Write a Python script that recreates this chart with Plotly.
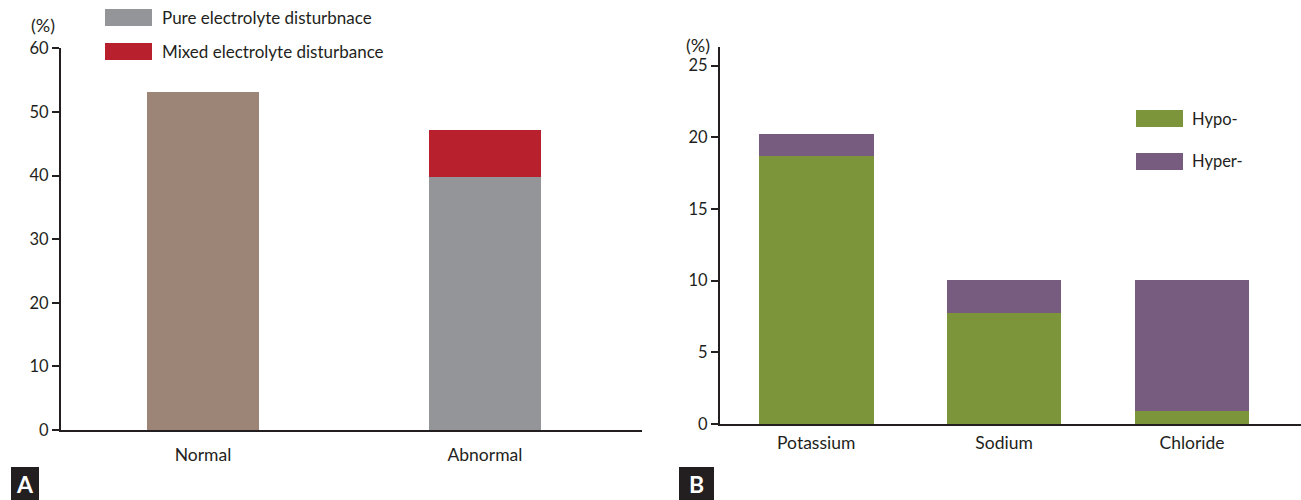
import plotly.graph_objects as go

W, H = 1301, 500

# Panel A data
a_categories = ["Normal", "Abnormal"]
a_normal = [53.2, None]
a_pure = [None, 39.8]
a_mixed = [None, 7.4]
a_yticks = [0, 10, 20, 30, 40, 50, 60]

# Panel B data
b_categories = ["Potassium", "Sodium", "Chloride"]
b_hypo = [18.7, 7.75, 0.9]
b_hyper = [1.5, 2.3, 9.15]
b_yticks = [0, 5, 10, 15, 20, 25]

C_BROWN = "#9C8576"
C_GRAY = "#939598"
C_RED = "#B8202E"
C_GREEN = "#7C953B"
C_PURPLE = "#785C80"
C_AXIS = "#231F20"
FONT = "Lato"

def px(x):
    return x / W

def py(y):
    return 1 - y / H

fig = go.Figure()
bar_common = dict(showlegend=False, marker_line_width=0)
fig.add_trace(go.Bar(x=a_categories, y=a_normal, marker_color=C_BROWN, width=0.4,
                     xaxis="x", yaxis="y", name="Normal", **bar_common))
fig.add_trace(go.Bar(x=a_categories, y=a_pure, marker_color=C_GRAY, width=0.4,
                     xaxis="x", yaxis="y", name="Pure electrolyte disturbnace", **bar_common))
fig.add_trace(go.Bar(x=a_categories, y=a_mixed, marker_color=C_RED, width=0.4,
                     xaxis="x", yaxis="y", name="Mixed electrolyte disturbance", **bar_common))
fig.add_trace(go.Bar(x=b_categories, y=b_hypo, marker_color=C_GREEN, width=0.61,
                     xaxis="x2", yaxis="y2", name="Hypo-", **bar_common))
fig.add_trace(go.Bar(x=b_categories, y=b_hyper, marker_color=C_PURPLE, width=0.61,
                     xaxis="x2", yaxis="y2", name="Hyper-", **bar_common))

axis_common = dict(showgrid=False, zeroline=False, showline=True, linecolor=C_AXIS,
                   linewidth=2, automargin=False)
ytick_font = dict(family=FONT, size=16.5, color="#231F20")
xtick_font = dict(family=FONT, size=17.5, color="#231F20")

fig.update_layout(
    width=W, height=H, barmode="stack", showlegend=False,
    margin=dict(l=0, r=0, t=0, b=0, autoexpand=False),
    paper_bgcolor="white", plot_bgcolor="white",
    font=dict(family=FONT, size=16, color="#231F20"),
    xaxis=dict(domain=[px(61), px(642)], range=[-0.5035, 1.557], anchor="y",
               ticks="", ticklabelstandoff=8, tickfont=xtick_font, **axis_common),
    yaxis=dict(domain=[py(430), py(48.4)], range=[0, 60], anchor="x",
               tickvals=a_yticks, ticks="outside", ticklen=7, tickwidth=2,
               tickcolor=C_AXIS, tickfont=ytick_font, **axis_common),
    xaxis2=dict(domain=[px(720), px(1301)], range=[-0.512, 2.58], anchor="y2",
                ticks="", ticklabelstandoff=2, tickfont=xtick_font, **axis_common),
    yaxis2=dict(domain=[py(424), py(47)], range=[0, 26.3], anchor="x2",
                tickvals=b_yticks, ticks="outside", ticklen=7, tickwidth=2,
                tickcolor=C_AXIS, tickfont=ytick_font, **axis_common),
)

shapes = []
annotations = []

# legend A
legA = [(C_GRAY, "Pure electrolyte disturbnace", 9, 26), (C_RED, "Mixed electrolyte disturbance", 43, 60)]
for col, txt, y0, y1 in legA:
    shapes.append(dict(type="rect", xref="paper", yref="paper", x0=px(105), x1=px(152),
                       y0=py(y1), y1=py(y0), fillcolor=col, line_width=0))
    annotations.append(dict(xref="paper", yref="paper", x=px(160), y=py((y0 + y1) / 2),
                            text=txt, showarrow=False, xanchor="left", yanchor="middle",
                            font=dict(family=FONT, size=17, color="#231F20")))
# legend B
legB = [(C_GREEN, "Hypo-", 110, 127), (C_PURPLE, "Hyper-", 153, 170)]
for col, txt, y0, y1 in legB:
    shapes.append(dict(type="rect", xref="paper", yref="paper", x0=px(1136), x1=px(1183),
                       y0=py(y1), y1=py(y0), fillcolor=col, line_width=0))
    annotations.append(dict(xref="paper", yref="paper", x=px(1190), y=py((y0 + y1) / 2),
                            text=txt, showarrow=False, xanchor="left", yanchor="middle",
                            font=dict(family=FONT, size=16.5, color="#231F20")))

# (%) labels
annotations.append(dict(xref="paper", yref="paper", x=px(43), y=py(25), text="(%)",
                        showarrow=False, xanchor="center", yanchor="middle",
                        font=dict(family=FONT, size=18, color="#231F20")))
annotations.append(dict(xref="paper", yref="paper", x=px(698), y=py(45), text="(%)",
                        showarrow=False, xanchor="center", yanchor="middle",
                        font=dict(family=FONT, size=18, color="#231F20")))

# panel labels
for lab, x0, x1 in [("A", 11, 39), ("B", 679, 714)]:
    shapes.append(dict(type="rect", xref="paper", yref="paper", x0=px(x0), x1=px(x1),
                       y0=py(500), y1=py(467), fillcolor="#231F20", line_width=0))
    annotations.append(dict(xref="paper", yref="paper", x=px((x0 + x1) / 2), y=py(484),
                            text="<b>" + lab + "</b>", showarrow=False, xanchor="center",
                            yanchor="middle", font=dict(family=FONT, size=23, color="white")))

fig.update_layout(shapes=shapes, annotations=annotations)
fig.write_html("out.html")
